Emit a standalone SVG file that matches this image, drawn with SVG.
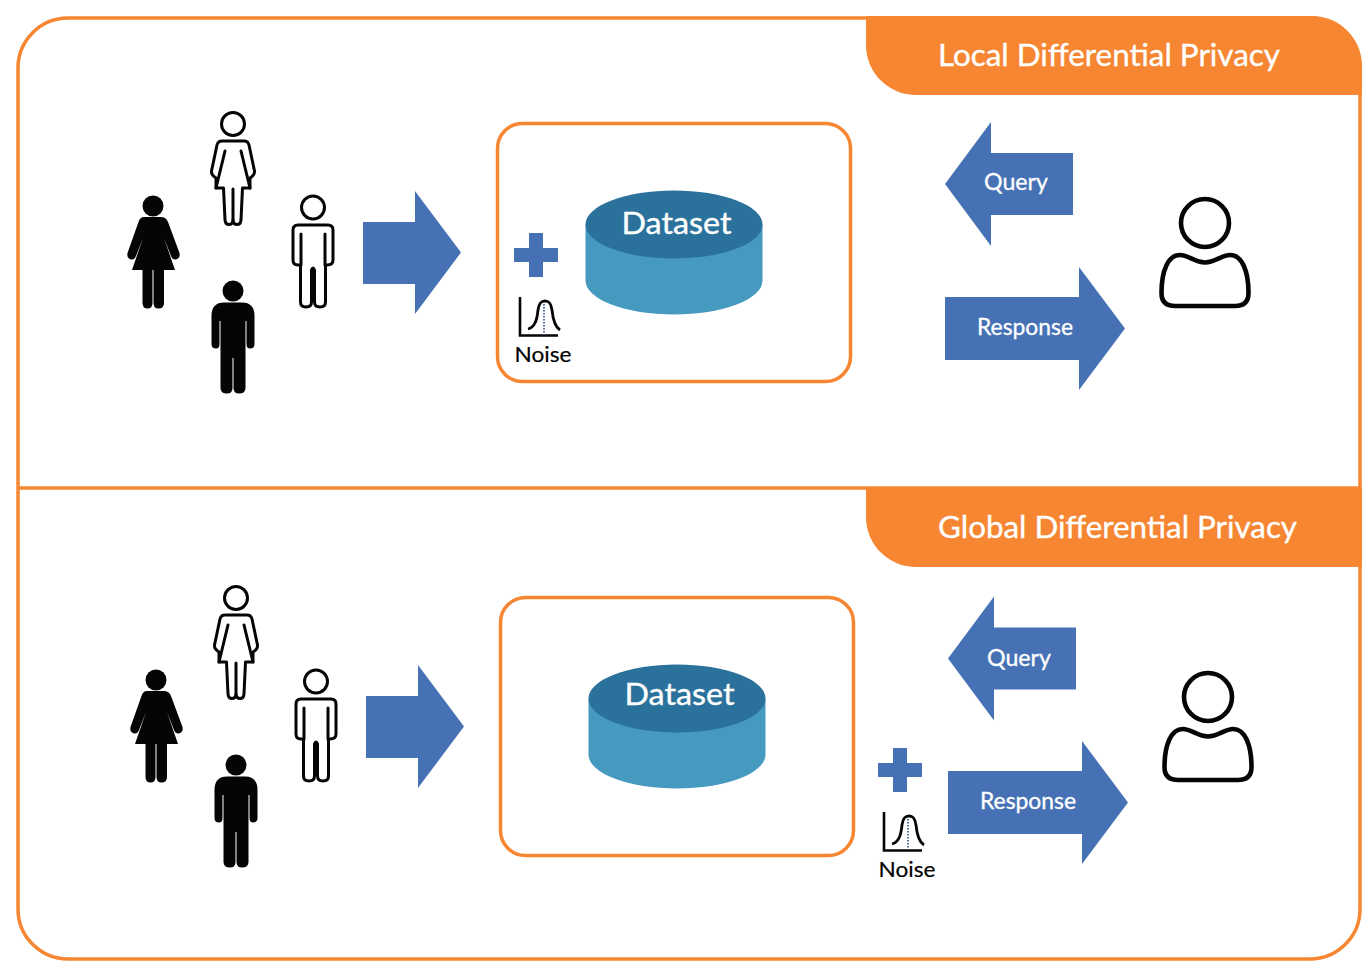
<svg xmlns="http://www.w3.org/2000/svg" xmlns:xlink="http://www.w3.org/1999/xlink" width="1371" height="976" viewBox="0 0 1371 976">
<style>
text{font-family:"Lato","Liberation Sans",sans-serif}
.title{font-size:30px;fill:#fff;stroke:#fff;stroke-width:.35}
.ds{font-size:31px;fill:#fff;stroke:#fff;stroke-width:.35}
.lbl{font-size:22.5px;fill:#fff;stroke:#fff;stroke-width:.3}
.nz{font-size:22px;fill:#000;stroke:#000;stroke-width:.2}
.arrow{fill:#4672b5}
.ol{fill:#fff;stroke:#050505;stroke-width:3;stroke-linejoin:round;stroke-linecap:round}
.ln{fill:none;stroke:#050505;stroke-width:3;stroke-linecap:round}
.solid{fill:#050505}
.box{fill:#fff;stroke:#f68631;stroke-width:3.5}
</style>
<defs>
<g id="woman-solid">
<circle cx="153" cy="206" r="10.5" class="solid"/>
<path class="solid" d="M144,217H161Q166,217 168,222L179.500,253Q180.500,258 176,259.500Q172.500,260 171,256L164,238L175,270H164V303Q164,308.500 158.500,308.500Q153.500,308.500 153.500,303V270H152.500V303Q152.500,308.500 147.500,308.500Q142.500,308.500 142.500,303V270H132L143,238L136,256Q134.500,260 131,259.500Q126.500,258 127.500,253L138.500,222Q140,217 144,217Z"/>
</g>
<g id="woman-outline">
<circle cx="233" cy="124" r="11.500" class="ol"/>
<path class="ol" d="M222,141H244Q248,141 249,145L254.500,171Q255,175 250,178L250,188H242.500L241,220Q240.500,224.500 237,224.500Q233.500,224.500 233,220Q232.500,224.500 229,224.500Q225.500,224.500 225,220L223.500,188H216L216,178Q211,175 211.500,171L217,145Q218,141 222,141Z"/>
<path class="ln" d="M233,189V220M241,151L250,188M225,151L216,188"/>
</g>
<g id="man-solid">
<circle cx="233" cy="291" r="10.500" class="solid"/>
<path class="solid" d="M224,302.500H242Q254.500,302.500 254.500,316V344Q254.500,348.500 250,348.500Q246.500,348.500 246.500,344V321H245.500V388Q245.500,393.500 239,393.500Q233.500,393.500 233.500,388V358H232.500V388Q232.500,393.500 227,393.500Q220.500,393.500 220.500,388V321H219.500V344Q219.500,348.500 216,348.500Q211.500,348.500 211.500,344V316Q211.500,302.500 224,302.500Z"/>
</g>
<g id="man-outline">
<circle cx="313" cy="207.500" r="11.500" class="ol"/>
<path class="ol" d="M298,225H328Q333,225 333,230V260Q333,265 327,265H325.500V302Q325.500,307 320,307Q314.500,307 314.500,302V270Q313,266 311.500,270V302Q311.500,307 306,307Q300.500,307 300.500,302V265H298Q293,265 293,260V230Q293,225 298,225Z"/>
<path class="ln" d="M301,234V265M325,234V265"/>
</g>
<g id="user">
<circle cx="1205" cy="223" r="24" fill="none" stroke="#050505" stroke-width="4.600"/>
<path fill="none" stroke="#050505" stroke-width="4.600" stroke-linejoin="round" d="M1205,262.500C1195,262.500 1188,255 1180,255C1168,255 1161.500,271 1161.500,293Q1161.500,306 1175,306H1235Q1248.500,306 1248.500,293C1248.500,271 1242,255 1230,255C1222,255 1215,262.500 1205,262.500Z"/>
</g>
<g id="cyl">
<path fill="#4699bf" d="M585.500,224.500V280.500A88.500,34 0 0 0 762.500,280.500V224.500Z"/>
<ellipse cx="674" cy="224.500" rx="88.500" ry="34" fill="#2a729b"/>
</g>
<g id="noise">
<path fill="#4672b5" d="M529,233H543V248H558V262H543V277H529V262H514V248H529Z"/>
<path fill="none" stroke="#050505" stroke-width="2.600" d="M520,297V335.500H558"/>
<path fill="none" stroke="#050505" stroke-width="2.800" d="M528,329C535,327 537,320 538,310C539,303 541,301 545,301C549,301 551,303 552,310C553,320 555,327 560,330"/>
<path fill="none" stroke="#1f3f6f" stroke-width="1.500" stroke-dasharray="1.500 1.500" d="M544,304V334"/>
</g>
<path id="in-arrow" class="arrow" d="M363,222H415V191L461,252.500L415,314V284H363Z"/>
<path id="query-arrow" class="arrow" d="M945,184L991,122V153H1073V215H991V246Z"/>
<path id="resp-arrow" class="arrow" d="M945,297H1079V267L1125,328.500L1079,390V360H945Z"/>
</defs>

<g id="frame">
<rect x="18" y="18" width="1342" height="941" rx="50" fill="#fff" stroke="#f68631" stroke-width="3.500"/>
<path d="M18,488H1360" stroke="#f68631" stroke-width="3.500" fill="none"/>
</g>

<g id="local-tab">
<path fill="#f68631" d="M866,16H1312A50,50 0 0 1 1362,66V95H916A50,50 0 0 1 866,45Z"/>
<text class="title" x="938" y="65.500" textLength="342" lengthAdjust="spacingAndGlyphs">Local Differential Privacy</text>
</g>
<g id="global-tab">
<path fill="#f68631" d="M866,487H1362V567H916A50,50 0 0 1 866,517Z"/>
<text class="title" x="938" y="537.500" textLength="359" lengthAdjust="spacingAndGlyphs">Global Differential Privacy</text>
</g>

<g id="connectors">
<use href="#in-arrow"/>
<use href="#query-arrow"/>
<use href="#resp-arrow"/>
<use href="#in-arrow" transform="translate(3,474)"/>
<use href="#query-arrow" transform="translate(3,474.500)"/>
<use href="#resp-arrow" transform="translate(3,474)"/>
</g>
<g id="arrow-labels">
<text class="lbl" x="984" y="190" textLength="64" lengthAdjust="spacingAndGlyphs">Query</text>
<text class="lbl" x="977" y="335" textLength="96" lengthAdjust="spacingAndGlyphs">Response</text>
<text class="lbl" x="987" y="666" textLength="64" lengthAdjust="spacingAndGlyphs">Query</text>
<text class="lbl" x="980" y="809" textLength="96" lengthAdjust="spacingAndGlyphs">Response</text>
</g>

<g id="people-local">
<use href="#woman-solid"/>
<use href="#woman-outline"/>
<use href="#man-solid"/>
<use href="#man-outline"/>
</g>
<g id="people-global" transform="translate(3,474)">
<use href="#woman-solid"/>
<use href="#woman-outline"/>
<use href="#man-solid"/>
<use href="#man-outline"/>
</g>

<g id="dataset-local">
<rect class="box" x="497.500" y="123.500" width="353" height="258" rx="25"/>
<use href="#cyl"/>
<text class="ds" x="621.500" y="234" textLength="110" lengthAdjust="spacingAndGlyphs">Dataset</text>
</g>
<g id="noise-local">
<use href="#noise"/>
<text class="nz" x="514.500" y="362" textLength="57" lengthAdjust="spacingAndGlyphs">Noise</text>
</g>
<g id="dataset-global">
<rect class="box" x="500.500" y="597.500" width="353" height="258" rx="25"/>
<use href="#cyl" transform="translate(3,474)"/>
<text class="ds" x="624.500" y="705" textLength="110" lengthAdjust="spacingAndGlyphs">Dataset</text>
</g>
<g id="noise-global">
<use href="#noise" transform="translate(364,515)"/>
<text class="nz" x="878.500" y="877" textLength="57" lengthAdjust="spacingAndGlyphs">Noise</text>
</g>

<g id="user-local"><use href="#user"/></g>
<g id="user-global"><use href="#user" transform="translate(3,474)"/></g>
</svg>
